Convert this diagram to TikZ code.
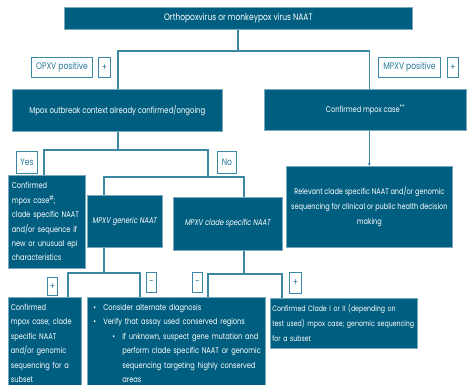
\documentclass[tikz,border=0pt]{standalone}
\usepackage{fontspec}
\setmainfont[FakeStretch=0.8]{Poppins}
\usetikzlibrary{arrows.meta}
\definecolor{boxc}{RGB}{0,94,128}
\definecolor{edgec}{RGB}{120,170,190}
\definecolor{linec}{RGB}{58,135,163}
\definecolor{lblc}{RGB}{40,120,150}
\newcommand{\supmark}[1]{\raisebox{3pt}{\fontsize{6.5}{6.5}\selectfont #1}}
\tikzset{
  dbox/.style={fill=boxc, draw=edgec, line width=0.7pt, text=white, inner sep=0pt, anchor=north west, font=\fontsize{8.3}{14.4}\selectfont},
  lbl/.style={draw=linec, fill=white, text=lblc, line width=1pt, inner sep=0pt, anchor=north west, font=\fontsize{9.5}{10}\selectfont},
  conn/.style={draw=linec, line width=1.3pt},
}
\begin{document}
\begin{tikzpicture}[x=1pt,y=-1pt]
\useasboundingbox (0,0) rectangle (468,385);
% main boxes
\node[dbox, minimum width=348, minimum height=22, font=\fontsize{9.4}{11}\selectfont] (top) at (64,7) {Orthopoxvirus or monkeypox virus NAAT};
\node[dbox, minimum width=210, minimum height=42, font=\fontsize{8.6}{11}\selectfont] (outb) at (12,89) {Mpox outbreak context already confirmed/ongoing};
\node[dbox, minimum width=202, minimum height=41] (conf) at (264,89) {Confirmed mpox case\supmark{**}};
\node[dbox, minimum width=166, minimum height=81, align=center, font=\fontsize{8.2}{14.8}\selectfont] (rel) at (286,166) {Relevant clade specific NAAT and/or genomic\\sequencing for clinical or public health decision\\making};
\node[dbox, minimum width=77, minimum height=93, text width=70, align=left] (confh) at (8,175) {Confirmed\\mpox case\supmark{\#};\\clade specific NAAT\\and/or sequence if\\new or unusual epi\\characteristics};
\node[dbox, minimum width=75, minimum height=52] (gen) at (87,195) {\itshape MPXV generic NAAT};
\node[dbox, minimum width=109, minimum height=53] (clade) at (173,197) {\itshape MPXV clade specific NAAT};
\node[dbox, minimum width=73, minimum height=92, text width=68, align=left] (bl) at (8,297) {Confirmed\\mpox case; clade\\specific NAAT\\and/or genomic\\sequencing for a\\subset};
\node[dbox, minimum width=178, minimum height=92, text width=174, align=left] (mid) at (87,297) {%
\hspace*{4pt}\makebox[10pt][l]{•}Consider alternate diagnosis\\
\hspace*{4pt}\makebox[10pt][l]{•}Verify that assay used conserved regions\\
\hspace*{23pt}\makebox[10pt][l]{•}If unknown, suspect gene mutation and\\
\hspace*{33pt}perform clade specific NAAT or genomic\\
\hspace*{33pt}sequencing targeting highly conserved\\
\hspace*{33pt}areas};
\node[dbox, minimum width=147, minimum height=50, text width=143, align=left, font=\fontsize{7.8}{15}\selectfont] (cl) at (270,298) {Confirmed Clade I or II (depending on\\test used) mpox case; genomic sequencing\\for a subset};
% labels
\node[lbl, minimum width=61, minimum height=20] (opxv) at (31,57) {OPXV positive};
\node[lbl, minimum width=12, minimum height=20] (p1) at (98,57) {+};
\node[lbl, minimum width=62, minimum height=20] (mpxv) at (378,57) {MPXV positive};
\node[lbl, minimum width=11, minimum height=20] (p2) at (447,57) {+};
\node[lbl, minimum width=21, minimum height=22] (yes) at (16,151) {Yes};
\node[lbl, minimum width=19, minimum height=22] (no) at (217,151) {No};
\node[lbl, minimum width=10, minimum height=18] (p3) at (47,277) {+};
\node[lbl, minimum width=10, minimum height=20] (m1) at (146,272) {-};
\node[lbl, minimum width=10, minimum height=20] (m2) at (192,272) {-};
\node[lbl, minimum width=12, minimum height=21] (p4) at (289,272) {+};
% junction coordinates
\coordinate (j1) at (238,51);
\coordinate (j2) at (118,150);
\coordinate (j3) at (208,177);
\coordinate (j4) at (104,273);
\coordinate (j5) at (244,274);
% connectors
\draw[conn] (top.south -| j1) -- (j1);
\draw[conn] (outb.north -| j2) |- (j1) -| (conf.north -| rel.north);
\draw[conn, -{Stealth[length=3pt,width=3pt]}] (conf.south -| rel.north) -- (rel.north);
\draw[conn] (outb.south -| j2) -- (j2);
\draw[conn] (confh.north -| 44,0) |- (j2) -| (j3);
\draw[conn] (gen.north -| j4) |- (j3) -| (clade.north -| j5);
\draw[conn] (gen.south -| j4) -- (j4);
\draw[conn] (bl.north -| 68,0) |- (j4) -| (mid.north -| 140,0);
\draw[conn] (clade.south -| j5) -- (j5);
\draw[conn] (mid.north -| 208,0) |- (j5) -| (cl.north -| 282,0);
\end{tikzpicture}
\end{document}
